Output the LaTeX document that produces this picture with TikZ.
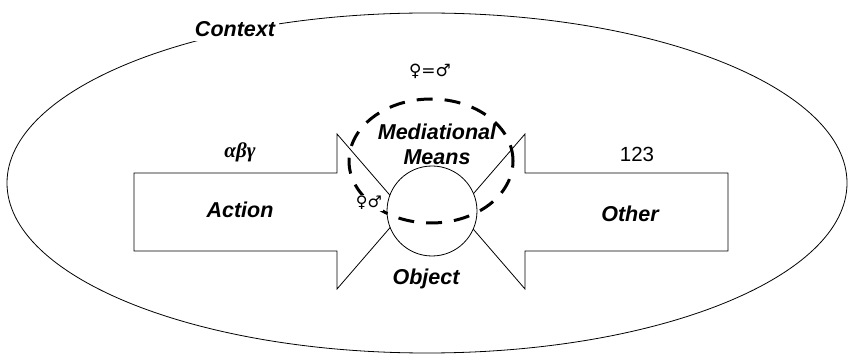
\documentclass[tikz,border=0pt]{standalone}
\usepackage{fontspec}
\setmainfont{Liberation Sans}
\newfontfamily\symfnt{DejaVu Sans}
\newfontfamily\grkfnt{Liberation Serif}
\begin{document}
\begin{tikzpicture}[x=1pt,y=-1pt,line join=miter,
  lab/.style={font=\fontsize{21.5}{24}\selectfont\bfseries\itshape, inner sep=0pt},
  plain/.style={font=\fontsize{20.5}{24}\selectfont, inner sep=0pt},
  sym/.style={font=\symfnt\fontsize{17}{20}\selectfont, inner sep=1pt},
  outline/.style={draw=black, line width=0.8pt},
  arrowshape/.style={outline, fill=white},
  dashring/.style={draw=black, line width=3pt, dash pattern=on 16pt off 12pt}]
\useasboundingbox (0,0) rectangle (848,355);
% context ellipse
\draw[outline] (427,183) ellipse [x radius=420pt, y radius=170pt];
% arrows
\draw[arrowshape] (134,173) -- (337,173) -- (337,134) -- (404,211.5) -- (337,289) -- (337,251) -- (134,251) -- cycle;
\draw[arrowshape] (728,173) -- (525,173) -- (525,134) -- (458,211.5) -- (525,289) -- (525,251) -- (728,251) -- cycle;
% object circle
\draw[arrowshape] (432,211) circle [radius=45pt];
% mediational means dashed ellipse
\draw[dashring] (431,161) ellipse [x radius=82pt, y radius=62pt];
% texts
\node[lab, fill=white, inner sep=4pt, anchor=base] (context) at (235,37) {Context};
\node[lab, anchor=base] (action) at (240,218) {Action};
\node[lab, anchor=base] (other) at (630,222) {Other};
\node[lab, anchor=base] (med) at (437,140) {Mediational};
\node[lab, anchor=base] (means) at (437,165) {Means};
\node[lab, anchor=base] (object) at (426,284) {Object};
\node[font=\grkfnt\fontsize{21}{24}\selectfont\bfseries\itshape, inner sep=0pt, anchor=base] (greek) at (240,158) {αβγ};
\node[plain, anchor=base] (num) at (637,162) {123};
\node[sym] (eq) at (430,71) {♀=♂};
\node[sym, fill=white, font=\symfnt\fontsize{16}{19}\selectfont] (pair) at (369,203) {♀♂};
\end{tikzpicture}
\end{document}
